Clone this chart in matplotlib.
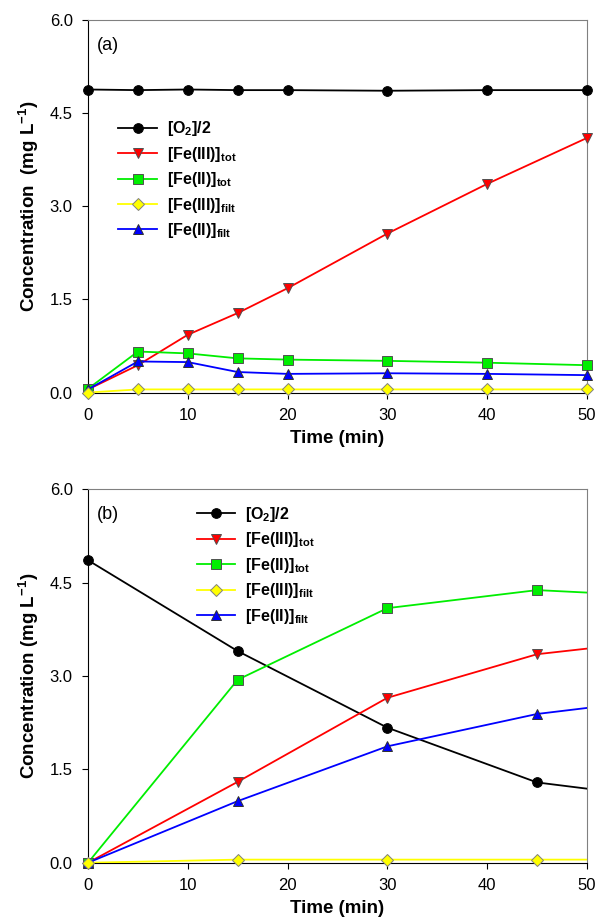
import matplotlib
matplotlib.use('Agg')
from matplotlib import pyplot as plt
from matplotlib.lines import Line2D

plt.rcParams['font.family'] = ['Liberation Sans', 'DejaVu Sans']
plt.rcParams['mathtext.fontset'] = 'custom'
plt.rcParams['mathtext.rm'] = 'Liberation Sans'
plt.rcParams['mathtext.bf'] = 'Liberation Sans:bold'

# panel (a)
t_a = [0, 5, 10, 15, 20, 30, 40, 50]
o2_a = [4.88, 4.87, 4.88, 4.87, 4.87, 4.86, 4.87, 4.87]
fe3tot_a = [0.05, 0.44, 0.93, 1.28, 1.68, 2.56, 3.36, 4.10]
fe2tot_a = [0.06, 0.66, 0.63, 0.55, 0.53, 0.51, 0.48, 0.44]
fe3filt_a = [0.0, 0.05, 0.05, 0.05, 0.05, 0.05, 0.05, 0.05]
fe2filt_a = [0.05, 0.50, 0.49, 0.33, 0.30, 0.31, 0.30, 0.28]

# panel (b) - last point lies beyond the axis limit
t_b = [0, 15, 30, 45, 60]
o2_b = [4.86, 3.40, 2.17, 1.29, 0.99]
fe3tot_b = [0.0, 1.30, 2.65, 3.35, 3.62]
fe2tot_b = [0.0, 2.94, 4.09, 4.38, 4.26]
fe3filt_b = [0.0, 0.05, 0.05, 0.05, 0.05]
fe2filt_b = [0.0, 0.99, 1.87, 2.39, 2.68]

labels = [r'$\mathbf{[O_2]/2}$', r'$\mathbf{[Fe(III)]_{tot}}$', r'$\mathbf{[Fe(II)]_{tot}}$',
          r'$\mathbf{[Fe(III)]_{filt}}$', r'$\mathbf{[Fe(II)]_{filt}}$']
styles = [
    dict(color='black', marker='o', mfc='black', mec='black', z=3),
    dict(color='#ff0000', marker='v', mfc='#ff0000', mec='#505050', z=4),
    dict(color='#00ee00', marker='s', mfc='#00ee00', mec='#505050', z=5),
    dict(color='#ffff00', marker='D', mfc='#ffff00', mec='#808080', z=7),
    dict(color='#0000ff', marker='^', mfc='#0000ff', mec='#303030', z=6),
]
msizes = [7, 7.5, 6.5, 6, 7]


def draw(ax, t, series, tag, legend_anchor, ylabel):
    handles = []
    for y, st, ms, lab in zip(series, styles, msizes, labels):
        ax.plot(t, y, color=st['color'], lw=1.3, zorder=st['z'], clip_on=True)
        tv = [a for a in t if a <= 50]
        ax.plot(tv, y[:len(tv)], ls='none', marker=st['marker'], ms=ms,
                mfc=st['mfc'], mec=st['mec'], mew=0.7, zorder=st['z'] + 0.5, clip_on=False)
        handles.append(Line2D([], [], color=st['color'], lw=1.3, marker=st['marker'], ms=ms,
                              mfc=st['mfc'], mec=st['mec'], mew=0.7))
    ax.set_xlim(0, 50)
    ax.set_ylim(0, 6)
    ax.set_xticks([0, 10, 20, 30, 40, 50])
    ax.set_yticks([0, 1.5, 3.0, 4.5, 6.0])
    ax.set_yticklabels(['0.0', '1.5', '3.0', '4.5', '6.0'])
    ax.tick_params(direction='out', length=4, width=0.8, labelsize=12, pad=7)
    for s in ['top', 'right']:
        ax.spines[s].set_color('#808080')
    for s in ['left', 'bottom']:
        ax.spines[s].set_color('black')
    ax.set_xlabel('Time (min)', fontsize=13.5, fontweight='bold', labelpad=5)
    ax.set_ylabel(ylabel, fontsize=13.5, fontweight='bold', labelpad=6)
    ax.text(0.018, 0.955, tag, transform=ax.transAxes, fontsize=13, va='top')
    ax.legend(handles, labels, loc='upper left', bbox_to_anchor=legend_anchor, frameon=False,
              fontsize=11.5, handlelength=2.4, labelspacing=0.4, handletextpad=0.65, borderaxespad=0)


fig = plt.figure(figsize=(5.97, 9.24), dpi=100)
ax1 = fig.add_axes([0.1474, 0.5752, 0.8358, 0.4032])
ax2 = fig.add_axes([0.1474, 0.0663, 0.8358, 0.4042])

draw(ax1, t_a, [o2_a, fe3tot_a, fe2tot_a, fe3filt_a, fe2filt_a], '(a)', (0.048, 0.75),
     r'Concentration  (mg L$^{\mathbf{-1}}$)')
draw(ax2, t_b, [o2_b, fe3tot_b, fe2tot_b, fe3filt_b, fe2filt_b], '(b)', (0.205, 0.975),
     r'Concentration (mg L$^{\mathbf{-1}}$)')

fig.savefig('out.png', dpi=100)
